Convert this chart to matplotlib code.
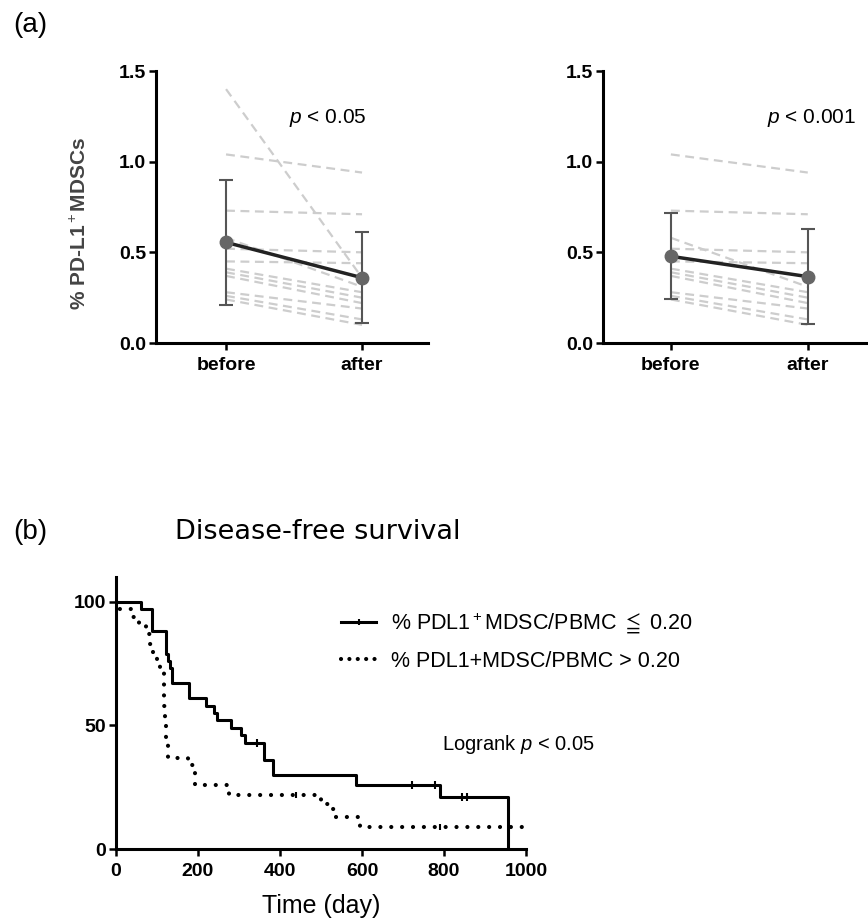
import matplotlib
matplotlib.use("Agg")
import matplotlib.pyplot as plt
from matplotlib.lines import Line2D

plt.rcParams['font.family'] = ['Liberation Sans', 'DejaVu Sans']
plt.rcParams['mathtext.fontset'] = 'custom'
plt.rcParams['mathtext.rm'] = 'Liberation Sans'
plt.rcParams['mathtext.it'] = 'Liberation Sans:italic'

# ---- panel (a) data: paired before/after values ----
groups = ["before", "after"]
left_before = [1.40, 1.04, 0.73, 0.58, 0.52, 0.45, 0.41, 0.39, 0.37, 0.28, 0.26, 0.24]
left_after = [0.36, 0.94, 0.71, 0.31, 0.50, 0.44, 0.28, 0.25, 0.22, 0.19, 0.13, 0.10]
right_before = [1.04, 0.73, 0.58, 0.52, 0.45, 0.41, 0.39, 0.37, 0.28, 0.26, 0.24]
right_after = [0.94, 0.71, 0.31, 0.50, 0.44, 0.28, 0.25, 0.22, 0.19, 0.13, 0.10]
left_mean = [0.555, 0.36]
left_sd = [0.345, 0.25]
right_mean = [0.478, 0.366]
right_sd = [0.237, 0.262]
p_texts = ["$p$ < 0.05", "$p$ < 0.001"]

# ---- panel (b) data: Kaplan-Meier steps ----
low_t = [0, 62, 89, 121, 126, 131, 137, 177, 220, 240, 247, 281, 304, 314, 362, 382, 586, 790, 955]
low_s = [100, 97, 88, 79, 76, 73, 67, 61, 58, 55, 52, 49, 46, 43, 36, 30, 26, 21, 0]
low_cens_t = [343, 721, 778, 844, 856]
low_cens_s = [43, 26, 26, 21, 21]
high_t = [0, 3, 40, 57, 73, 82, 90, 100, 108, 116, 118, 120, 122, 126, 175, 193, 276,
          500, 510, 522, 537, 596, 1000]
high_s = [100, 97, 94, 91, 87, 83, 79, 75, 71, 65, 58, 51, 44, 37, 34, 26, 22,
          20, 18, 16, 13, 9, 9]
high_cens_t = [440, 790]
high_cens_s = [22, 9]

fig = plt.figure(figsize=(8.68, 9.19), dpi=100)
W, H = 868, 919


def px_axes(x0, x1, y0, y1):
    # pixel box (left, right, top, bottom) -> figure axes
    return fig.add_axes([x0 / W, 1 - y1 / H, (x1 - x0) / W, (y1 - y0) / H])


def style_axes(ax):
    for s in ["top", "right"]:
        ax.spines[s].set_visible(False)
    for s in ["left", "bottom"]:
        ax.spines[s].set_linewidth(2.2)
    ax.tick_params(direction="out", length=5, width=1.8, pad=2)


def paired_panel(ax, before, after, mean, sd, ptxt, px, xmin, xmax):
    for b, a in zip(before, after):
        ax.plot([0, 1], [b, a], color="#cdcdcd", lw=1.6, dashes=(4, 2.5), zorder=1)
    ax.errorbar([0, 1], mean, yerr=sd, color="#555555", lw=1.5, capsize=5,
                capthick=1.5, zorder=2, fmt="none")
    ax.plot([0, 1], mean, color="#222222", lw=2.5, zorder=3)
    ax.plot([0, 1], mean, "o", color="#666666", ms=9, zorder=4)
    ax.set_xlim(xmin, xmax)
    ax.set_ylim(0, 1.5)
    ax.set_yticks([0, 0.5, 1.0, 1.5])
    ax.set_yticklabels(["0.0", "0.5", "1.0", "1.5"])
    ax.set_xticks([0, 1])
    ax.set_xticklabels(groups)
    style_axes(ax)
    for lab in ax.get_xticklabels() + ax.get_yticklabels():
        lab.set_fontweight("bold")
        lab.set_fontsize(14)
    ax.tick_params(axis="x", pad=5)
    ax.text(px, 1.24, ptxt, fontsize=15, ha="center", va="center")


ax1 = px_axes(156, 428, 71, 343)
paired_panel(ax1, left_before, left_after, left_mean, left_sd, p_texts[0], 0.75, -0.515, 1.485)

ax2 = px_axes(603, 868, 71, 343)
paired_panel(ax2, right_before, right_after, right_mean, right_sd, p_texts[1], 1.03, -0.496, 1.44)

fig.text(80 / W, 1 - 223 / H, "% PD-L1$^+$MDSCs", rotation=90, ha="center",
         va="center", fontsize=15, color="#444444", fontweight="bold")
fig.text(13 / W, 1 - 25 / H, "(a)", fontsize=20, ha="left", va="center")

# ---- panel (b) ----
ax3 = px_axes(116, 526, 577, 849)
ax3.step(low_t, low_s, where="post", color="black", lw=2.2, zorder=3)
ax3.plot(low_cens_t, low_cens_s, "|", color="black", ms=6, mew=1.5, zorder=3)
ax3.step(high_t, high_s, where="post", color="black", lw=3.0,
         linestyle=(0, (0.01, 2.6)), dash_capstyle="round", zorder=2)
ax3.plot(high_cens_t, high_cens_s, "|", color="black", ms=5, mew=1.5, zorder=2)
ax3.set_xlim(0, 1000)
ax3.set_ylim(0, 110)
ax3.set_xticks([0, 200, 400, 600, 800, 1000])
ax3.set_yticks([0, 50, 100])
style_axes(ax3)
for lab in ax3.get_xticklabels() + ax3.get_yticklabels():
    lab.set_fontweight("bold")
    lab.set_fontsize(14)
ax3.tick_params(axis="x", pad=5)
ax3.set_xlabel("Time (day)", fontsize=18, labelpad=10)

handles = [
    Line2D([], [], color="black", lw=2.2, marker="|", ms=5, mew=1.5),
    Line2D([], [], color="black", lw=3.0, linestyle=(0, (0.01, 2.0)),
           dash_capstyle="round"),
]
labels = ["% PDL1$^+$MDSC/PBMC $\\leqq$ 0.20", "% PDL1+MDSC/PBMC > 0.20"]
fig.legend(handles, labels, loc="center left", bbox_to_anchor=(322 / W, 1 - 641 / H),
           frameon=False, fontsize=15.5, handlelength=1.6, handletextpad=0.7,
           labelspacing=0.7, numpoints=1)

fig.text(442 / W, 1 - 745 / H, "Logrank $p$ < 0.05", fontsize=14.5, ha="left", va="center")
fig.text(13 / W, 1 - 532 / H, "(b)", fontsize=20, ha="left", va="center")
fig.text(175 / W, 1 - 532 / H, "Disease-free survival", fontsize=19.5,
         family="DejaVu Sans", ha="left", va="center")

plt.savefig("out.png", dpi=100)
